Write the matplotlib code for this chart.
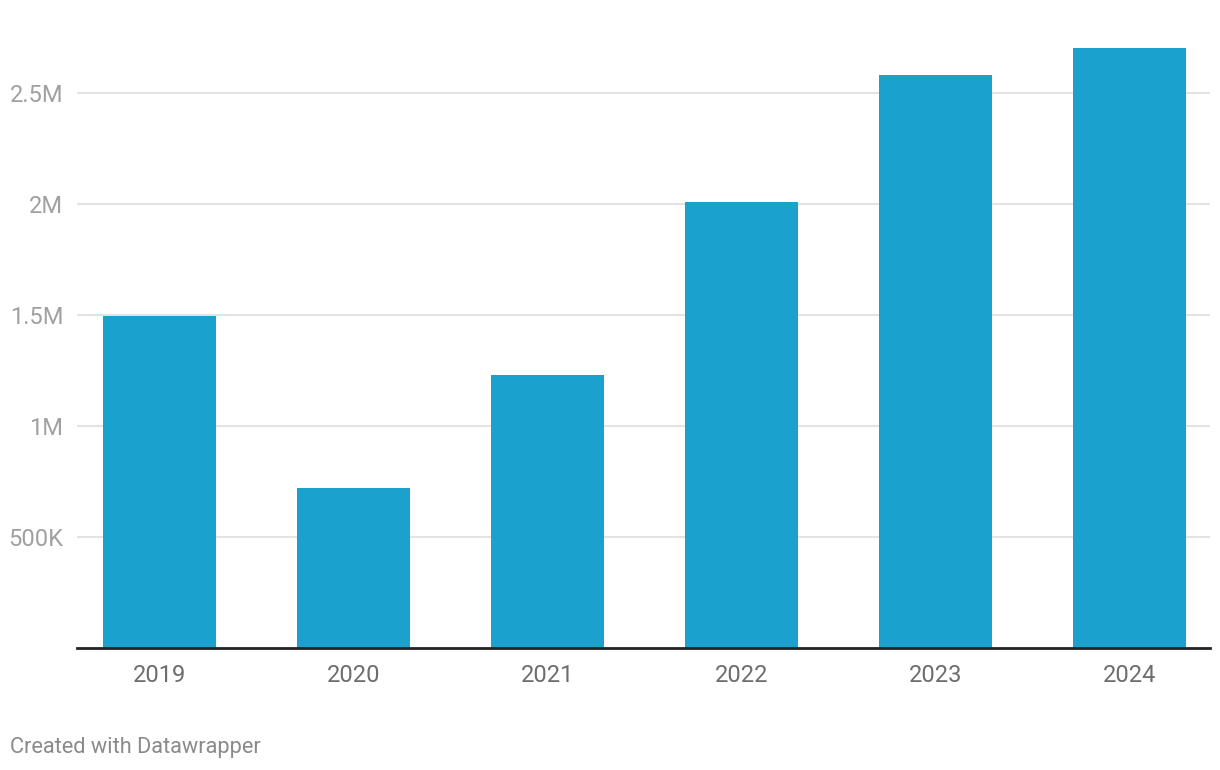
import matplotlib
matplotlib.use("Agg")
import matplotlib.pyplot as plt
from matplotlib.ticker import FixedLocator

years = ["2019", "2020", "2021", "2022", "2023", "2024"]
values = [1496000, 721000, 1230000, 2009000, 2581000, 2703000]
ytick_vals = [500000, 1000000, 1500000, 2000000, 2500000]
ytick_labels = ["500K", "1M", "1.5M", "2M", "2.5M"]

plt.rcParams['font.family'] = ['Roboto', 'DejaVu Sans']

W, H = 1220, 770
fig = plt.figure(figsize=(W / 100, H / 100), dpi=100)
left, right, bottom, top = 77, 1210, 648, 30
ax = fig.add_axes([left / W, (H - bottom) / H, (right - left) / W, (bottom - top) / H])

x = list(range(len(years)))
ax.bar(x, values, width=0.582, color="#1aa1ce", zorder=2)

ax.set_xlim(-0.425, 5.415)
ax.set_ylim(0, (bottom - top) / 222 * 1000000)

ax.yaxis.set_major_locator(FixedLocator(ytick_vals))
ax.set_yticklabels(ytick_labels)
ax.set_xticks(x)
ax.set_xticklabels(years)

ax.grid(axis="y", color="#e3e3e3", linewidth=1.5, zorder=0)
ax.grid(axis="x", visible=False)
for s in ["top", "right", "left"]:
    ax.spines[s].set_visible(False)
ax.spines["bottom"].set_color("#222222")
ax.spines["bottom"].set_linewidth(2)
ax.spines["bottom"].set_zorder(3)

ax.tick_params(axis="y", length=0, pad=10, labelsize=17, labelcolor="#a0a0a0")
ax.tick_params(axis="x", length=0, pad=11.5, labelsize=17, labelcolor="#6d6d6d")

fig.text(10 / W, 1 - 748 / H, "Created with Datawrapper", fontsize=15.7,
         color="#8a8a8a", ha="left", va="center")

fig.savefig("out.png", dpi=100, facecolor="white")
